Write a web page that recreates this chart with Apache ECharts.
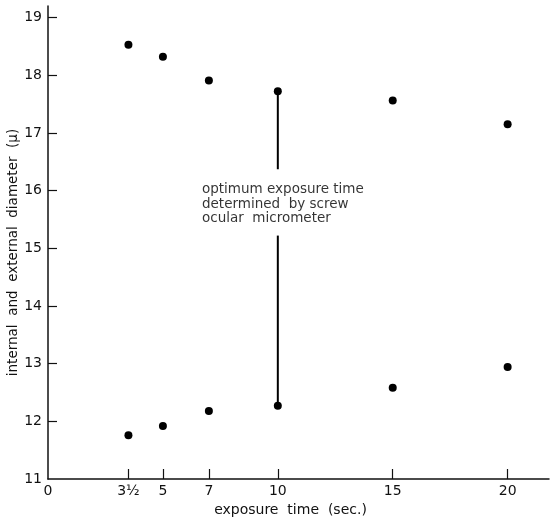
<!DOCTYPE html>
<html>
<head>
<meta charset="utf-8">
<script src="https://cdn.jsdelivr.net/npm/echarts@6/dist/echarts.min.js"></script>
<style>
  html, body { margin: 0; padding: 0; background: #fff; }
  #main { width: 553px; height: 521px; }
</style>
</head>
<body>
<div id="main"></div>
<script>
// exposure time (sec.)
var times = [3.5, 5, 7, 10, 15, 20];
// external diameter (upper row of points)
var external = [18.53, 18.32, 17.91, 17.72, 17.56, 17.15];
// internal diameter (lower row of points)
var internal = [11.76, 11.92, 12.18, 12.27, 12.58, 12.94];
// x labels / ticks
var xLabelValues = [0, 3.5, 5, 7, 10, 15, 20];
var xTickValues = [3.5, 5, 7, 10, 15, 20];
// optimum line at 10 s, split around the note
var optimumUpper = [[10, 17.72], [10, 16.37]];
var optimumLower = [[10, 15.22], [10, 12.27]];
var notePos = [6.7, 15.76];
var noteText = 'optimum exposure time\ndetermined  by screw\nocular  micrometer';

var dom = document.getElementById('main');
var chart = echarts.init(dom);

var font = 'DejaVu Sans';

function pairs(xs, ys) {
	var out = [];
	for (var i = 0; i < xs.length; i++) out.push([xs[i], ys[i]]);
	return out;
}

var option = {
	animation: false,
	backgroundColor: '#fff',
	grid: {
		left: 48,
		right: 4,
		top: 6,
		bottom: 42,
		containLabel: false,
		outerBoundsMode: 'none'
	},
	xAxis: {
		type: 'value',
		min: 0,
		max: 21.8,
		splitLine: { show: false },
		axisLine: { lineStyle: { color: '#111', width: 1.5 } },
		axisTick: {
			inside: true,
			length: 10,
			lineStyle: { color: '#111', width: 1.2 },
			customValues: xTickValues
		},
		axisLabel: {
			color: '#111',
			fontFamily: font,
			fontSize: 14,
			margin: 5,
			customValues: xLabelValues,
			formatter: function (v) {
				return v === 3.5 ? '3½' : String(v);
			}
		},
		name: 'exposure  time  (sec.)',
		nameLocation: 'middle',
		nameGap: 24,
		nameTextStyle: { color: '#111', fontFamily: font, fontSize: 14, padding: [0, 16, 0, 0] }
	},
	yAxis: {
		type: 'value',
		min: 11,
		max: 19.2,
		interval: 1,
		splitLine: { show: false },
		axisLine: { lineStyle: { color: '#111', width: 1.5 } },
		axisTick: {
			inside: true,
			length: 9,
			lineStyle: { color: '#111', width: 1.2 },
			customValues: [12, 13, 14, 15, 16, 17, 18, 19]
		},
		axisLabel: {
			color: '#111',
			fontFamily: font,
			fontSize: 14,
			margin: 6,
			customValues: [11, 12, 13, 14, 15, 16, 17, 18, 19]
		},
		name: 'internal  and  external  diameter  (μ)',
		nameLocation: 'middle',
		nameGap: 28,
		nameMoveOverlap: false,
		nameTextStyle: { color: '#111', fontFamily: font, fontSize: 13.5, padding: [0, 20, 0, 0] }
	},
	series: [{
			name: 'external',
			type: 'scatter',
			symbolSize: 8,
			itemStyle: { color: '#000', opacity: 1 },
			data: pairs(times, external)
		},
		{
			name: 'internal',
			type: 'scatter',
			symbolSize: 8,
			itemStyle: { color: '#000', opacity: 1 },
			data: pairs(times, internal)
		},
		{
			type: 'line',
			symbol: 'none',
			lineStyle: { color: '#000', width: 2 },
			data: optimumUpper
		},
		{
			type: 'line',
			symbol: 'none',
			lineStyle: { color: '#000', width: 2 },
			data: optimumLower
		},
		{
			type: 'scatter',
			symbolSize: 0,
			data: [notePos],
			label: {
				show: true,
				position: 'right',
				distance: 0,
				align: 'left',
				verticalAlign: 'middle',
				color: '#000',
				fontFamily: font,
				fontSize: 13.5,
				lineHeight: 14.5,
				formatter: noteText
			}
		}
	]
};

chart.setOption(option);
</script>
</body>
</html>
